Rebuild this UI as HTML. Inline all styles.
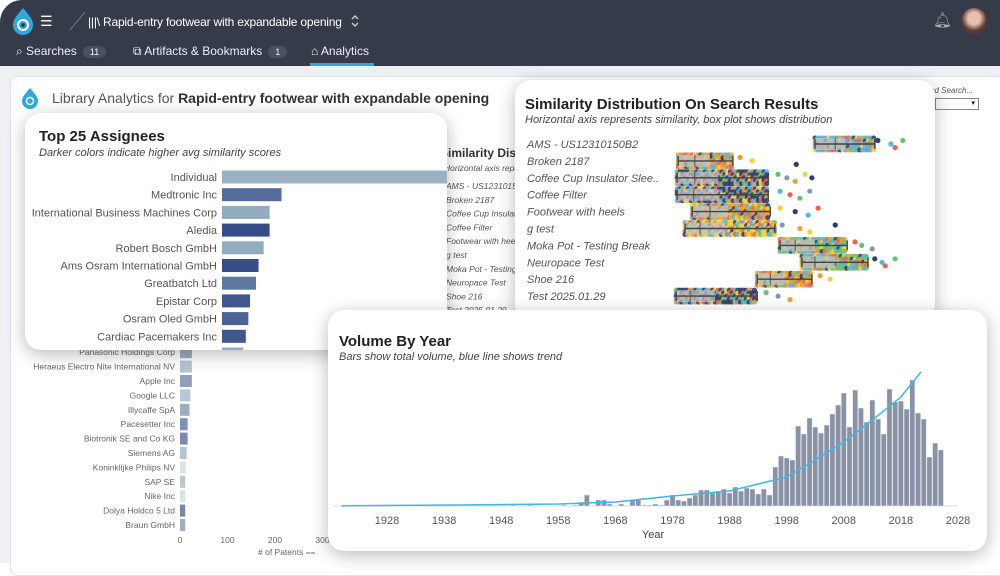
<!DOCTYPE html>
<html><head><meta charset="utf-8">
<style>
*{box-sizing:border-box;margin:0;padding:0}
body{width:1000px;height:563px;overflow:hidden;background:#fff;font-family:"Liberation Sans",sans-serif;position:relative}
.abs{position:absolute}
.hdr{left:0;top:0;width:1000px;height:66px;background:#363b4a;border-top-left-radius:22px}
.tab{color:#eef;font-size:12px;top:44px}
.badge{display:inline-block;background:#4a5060;border-radius:9px;padding:1px 7px;font-size:9px;margin-left:6px}
.page{left:0;top:66px;width:1000px;height:497px;background:#eef0f3}
.panel{left:10px;top:76px;width:995px;height:500px;background:#fff;border:1px solid #dfe2e6;border-radius:8px}
.card{background:#fff;border-radius:16px;box-shadow:0 4px 18px rgba(0,0,0,.28);overflow:hidden}
.ttl{font-weight:bold;font-size:15px;color:#222}
.sub{font-style:italic;font-size:11px;color:#444}
</style></head><body>
<div class="abs hdr"></div>
<svg class="abs" style="left:8px;top:6px" width="30" height="30"><path d="M15 2 C8 10 5 14 5 19 a10 10 0 0 0 20 0 C25 14 22 10 15 2z" fill="#2fa7e0"/><circle cx="15" cy="19" r="5" fill="none" stroke="#fff" stroke-width="2"/><circle cx="15" cy="19" r="2" fill="#363b4a"/></svg>
<div class="abs" style="left:40px;top:13px;color:#fff;font-size:14px">☰</div>
<div class="abs" style="left:62px;top:12px;width:16px;height:18px;border-right:1px solid #888;transform:skewX(-40deg)"></div>
<div class="abs" style="left:88px;top:15px;color:#fff;font-size:12px;letter-spacing:-0.2px">|||\ Rapid-entry footwear with expandable opening</div>
<svg class="abs" style="left:350px;top:14px" width="10" height="14"><path d="M2 5L5 2L8 5M2 9L5 12L8 9" stroke="#ccc" stroke-width="1.4" fill="none"/></svg>
<div class="abs" style="left:933px;top:11px;color:#aaa;font-size:15px">🔔︎</div>
<div class="abs" style="left:961px;top:8px;width:26px;height:26px;border-radius:50%;background:radial-gradient(circle at 50% 40%,#e8c0b0 30%,#5a3a30 60%)"></div>
<div class="abs tab" style="left:16px">⌕ Searches<span class="badge">11</span></div>
<div class="abs tab" style="left:133px">⧉ Artifacts &amp; Bookmarks<span class="badge">1</span></div>
<div class="abs tab" style="left:311px">⌂ Analytics</div>
<div class="abs" style="left:310px;top:63px;width:64px;height:3px;background:#2aa8e0"></div>
<div class="abs page"></div>
<div class="abs panel"></div>
<svg class="abs" style="left:20px;top:87px" width="20" height="22"><path d="M10 1 C5 7 2 10 2 14 a8 8 0 0 0 16 0 C18 10 15 7 10 1z" fill="#2fa7e0"/><circle cx="10" cy="14" r="3.5" fill="none" stroke="#fff" stroke-width="1.5"/></svg>
<div class="abs" style="left:52px;top:90px;font-size:14px;color:#555">Library Analytics for <b style="color:#333">Rapid-entry footwear with expandable opening</b></div>
<div class="abs" style="left:930px;top:86px;font-size:8px;font-style:italic;color:#555">ed Search...</div>
<div class="abs" style="left:935px;top:98px;width:44px;height:12px;border:1px solid #888;font-size:7px;text-align:right;padding-right:3px">▾</div>

<svg class="abs" style="left:0;top:0" width="1000" height="563" id="bg"></svg>

<div class="abs card" style="left:25px;top:113px;width:422px;height:237px">
<div class="abs ttl" style="left:14px;top:15px">Top 25 Assignees</div>
<div class="abs sub" style="left:14px;top:34px">Darker colors indicate higher avg similarity scores</div>
<svg class="abs" style="left:0;top:0" width="422" height="237" id="asg"></svg>
</div>

<div class="abs card" style="left:515px;top:80px;width:420px;height:240px">
<div class="abs ttl" style="left:10px;top:16px">Similarity Distribution On Search Results</div>
<div class="abs sub" style="left:10px;top:34px">Horizontal axis represents similarity, box plot shows distribution</div>
<svg class="abs" style="left:0;top:0" width="420" height="240" id="sim"></svg>
</div>

<div class="abs card" style="left:328px;top:310px;width:659px;height:241px">
<div class="abs ttl" style="left:11px;top:23px">Volume By Year</div>
<div class="abs sub" style="left:11px;top:41px">Bars show total volume, blue line shows trend</div>
<svg class="abs" style="left:0;top:0" width="659" height="241" id="vol"></svg>
</div>

<script>
const assignees=["Individual","Medtronic Inc","International Business Machines Corp","Aledia","Robert Bosch GmbH","Ams Osram International GmbH","Greatbatch Ltd","Epistar Corp","Osram Oled GmbH","Cardiac Pacemakers Inc","Infineon Technologies AG","Panasonic Holdings Corp","Heraeus Electro Nite International NV","Apple Inc","Google LLC","Illycaffe SpA","Pacesetter Inc","Biotronik SE and Co KG","Siemens AG","Koninklijke Philips NV","SAP SE","Nike Inc","Dolya Holdco 5 Ltd","Braun GmbH"];
const patents=[300,70,56,56,49,43,40,33,31,28,25,25,25,25,22,20,16,16,14,12,11,11,11,11];
const avgSim=[0.45,0.8,0.5,0.95,0.5,0.95,0.75,0.9,0.85,0.9,0.5,0.65,0.5,0.75,0.45,0.65,0.85,0.88,0.5,0.1,0.45,0.1,0.92,0.65];
const patentTicks=[0,100,200,300];

const searches=["AMS - US12310150B2","Broken 2187","Coffee Cup Insulator Slee..","Coffee Filter","Footwear with heels","g test","Moka Pot - Testing Break","Neuropace Test","Shoe 216","Test 2025.01.29"];
const simLo=[0.798,0.535,0.533,0.533,0.562,0.548,0.731,0.773,0.687,0.531];
const simMed=[0.837,0.567,0.567,0.565,0.596,0.577,0.760,0.798,0.712,0.558];
const simQ3=[0.856,0.596,0.612,0.612,0.631,0.625,0.798,0.837,0.740,0.606];
const simHi=[0.913,0.640,0.708,0.708,0.712,0.721,0.860,0.900,0.792,0.687];
const simOutliers=[[0.919,0.944,0.952,0.967],[0.654,0.677,0.762],[0.727,0.744,0.760,0.779,0.792],[0.731,0.75,0.769,0.788],[0.731,0.760,0.785,0.804],[0.735,0.769,0.788,0.837],[0.875,0.888,0.908],[0.913,0.927,0.933,0.952],[0.808,0.827],[0.704,0.727,0.750]];

const years=[1925,1950,1953,1959,1961,1962,1963,1965,1966,1967,1969,1971,1972,1973,1974,1975,1976,1977,1978,1979,1980,1981,1982,1983,1984,1985,1986,1987,1988,1989,1990,1991,1992,1993,1994,1995,1996,1997,1998,1999,2000,2001,2002,2003,2004,2005,2006,2007,2008,2009,2010,2011,2012,2013,2014,2015,2016,2017,2018,2019,2020,2021,2022,2023,2024,2025];
const volume=[1,1,1,1,1,4,11,6,6,2,2,6,6,1,1,2,1,6,11,6,5,8,11,16,16,13,15,17,13,19,15,18,17,12,17,11,39,50,48,46,80,72,88,79,73,81,92,101,113,79,116,98,84,106,87,72,117,104,105,97,126,93,87,49,63,56];
const trendYears=[1920,1940,1958,1968,1978,1988,1998,2003,2008,2013,2018,2021.5];
const trendVals=[0.3,1,2,4,10,15,29,46,64,86,109,134];
const yearTicks=[1928,1938,1948,1958,1968,1978,1988,1998,2008,2018,2028];

const NS="http://www.w3.org/2000/svg";
function mk(p,tag,at){const e=document.createElementNS(NS,tag);for(const k in at)e.setAttribute(k,at[k]);p.appendChild(e);return e;}
function col(s){const a=[222,225,228],m=[147,172,189],b=[44,66,130];
 const [p,q,t]=s<0.5?[a,m,s/0.5]:[m,b,(s-0.5)/0.5];
 return `rgb(${p.map((v,i)=>Math.round(v+(q[i]-v)*t)).join(',')})`;}

const bg=document.getElementById('bg');
const bx=v=>180+v*0.475, by=i=>525-(assignees.length-1-i)*14.4;
assignees.forEach((n,i)=>{
 const t=mk(bg,'text',{x:175,y:by(i)+3,'text-anchor':'end','font-size':8.5,fill:'#666'});t.textContent=n;
 
 
 const r=mk(bg,'rect',{x:180,y:by(i)-6,width:bx(patents[i])-180,height:12,fill:col(avgSim[i]),opacity:0.7});
 
 
});
patentTicks.forEach(v=>{const t=mk(bg,'text',{x:bx(v),y:543,'text-anchor':'middle','font-size':8.5,fill:'#666'});t.textContent=v;
 
 });
{const t=mk(bg,'text',{x:258,y:555,'font-size':8.5,fill:'#666'});t.textContent='# of Patents ⩵';
 
 }
{const t=mk(bg,'text',{x:440,y:157,'font-size':12,'font-weight':'bold',fill:'#333'});t.textContent='Similarity Distribution';
 
 
 const s=mk(bg,'text',{x:444,y:171,'font-size':8.5,'font-style':'italic',fill:'#555'});s.textContent='Horizontal axis represents';
 
 }
searches.forEach((n,i)=>{const t=mk(bg,'text',{x:446,y:189+i*13.8,'font-size':8.5,'font-style':'italic',fill:'#555'});t.textContent=n;
 
 });

const asg=document.getElementById('asg');
const ax=v=>197+v*0.85, ay=i=>64+i*17.7;
assignees.slice(0,11).forEach((n,i)=>{
 const t=mk(asg,'text',{x:192,y:ay(i)+4,'text-anchor':'end','font-size':11,fill:'#555'});t.textContent=n;
 
 
 const r=mk(asg,'rect',{x:197,y:ay(i)-6.5,width:ax(patents[i])-197,height:13,fill:col(avgSim[i])});
 
 
});

const sim=document.getElementById('sim');
const sx=s=>145+(s-0.5)*520, sy=i=>64+i*16.9;
const pal=['#2c3e73','#f0a030','#6cc070','#5ab4e0','#f5d040','#8899aa','#f06050'];
const rowMain=[3,1,0,0,1,4,2,2,1,0];
searches.forEach((n,i)=>{
 const y=sy(i);
 const t=mk(sim,'text',{x:12,y:y+4,'font-size':11,'font-style':'italic',fill:'#555'});t.textContent=n;
 
 
 const x0=sx(simLo[i]),x1=sx(simHi[i]);
 let k=0;
 for(let x=x0;x<=x1;x+=2.8){for(let dy=-6;dy<=6;dy+=3){
   const c=(k%3===0)?pal[(k*5+i)%7]:(k%3===1?pal[(k+i*2)%7]:pal[rowMain[i]]);
   const d=mk(sim,'circle',{cx:x,cy:y+dy,r:2.5,fill:c,opacity:0.9});
   
   
   k++;}}
 simOutliers[i].forEach((s,j)=>{const d=mk(sim,'circle',{cx:sx(s),cy:y+((j%3)-1)*3.5,r:2.6,fill:pal[(j*3+i)%7]});
   
   });
 const b=mk(sim,'rect',{x:x0,y:y-6,width:sx(simQ3[i])-x0,height:12,fill:'#c4c6c8',opacity:0.7});
 
 
 const m=mk(sim,'line',{x1:sx(simMed[i]),x2:sx(simMed[i]),y1:y-6,y2:y+6,stroke:'#555'});
 
 
 const w=mk(sim,'path',{d:`M${x0} ${y-5}V${y+5}M${x0} ${y}H${x1}M${x1} ${y-5}V${y+5}`,stroke:'#444','stroke-width':1.4,fill:'none'});
 
 
});

const vol=document.getElementById('vol');
const vx=yr=>59+(yr-1928)*5.71, vy=v=>196-v;
{const l=mk(vol,'line',{x1:6,x2:630,y1:196,y2:196,stroke:'#ddd'});
 
 }
years.forEach((yr,i)=>{const r=mk(vol,'rect',{x:vx(yr)-2.6,y:vy(volume[i]),width:5.2,height:volume[i],fill:'#8a93a6',stroke:'#eef0f4','stroke-width':0.5});
 
 });
{let d='';trendYears.forEach((yr,i)=>{d+=(i?'L':'M')+Math.max(6,vx(yr)).toFixed(1)+' '+vy(trendVals[i]).toFixed(1);});
 const p=mk(vol,'path',{d:d,stroke:'#3fb8ea','stroke-width':1.5,fill:'none','stroke-linejoin':'round'});
 
 }
yearTicks.forEach(yr=>{const t=mk(vol,'text',{x:vx(yr),y:214,'text-anchor':'middle','font-size':11,fill:'#555'});t.textContent=yr;
 
 });
{const t=mk(vol,'text',{x:325,y:228,'text-anchor':'middle','font-size':11,fill:'#444'});t.textContent='Year';
 
 }
</script>
</body></html>
